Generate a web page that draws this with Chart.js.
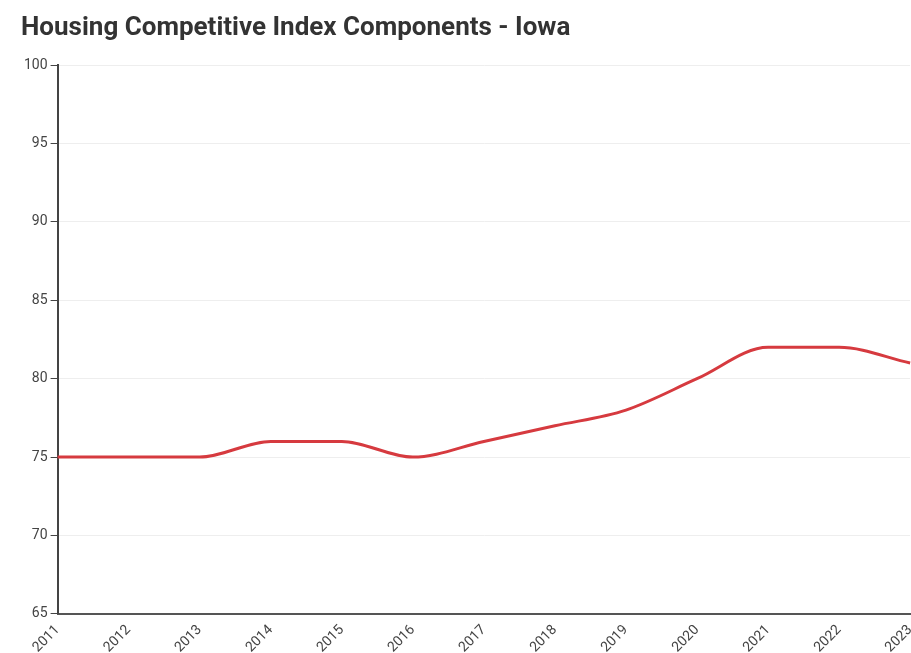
<!DOCTYPE html>
<html>
<head>
<meta charset="utf-8">
<script src="https://cdn.jsdelivr.net/npm/chart.js@4/dist/chart.umd.min.js"></script>
<style>
  html, body { margin: 0; padding: 0; background: #fff; overflow: hidden; }
  #wrap { width: 922px; height: 653px; }
</style>
</head>
<body>
<div id="wrap"><canvas id="chart"></canvas></div>
<script>
'use strict';
// годы и значения индекса
const years = ['2011', '2012', '2013', '2014', '2015', '2016', '2017', '2018', '2019', '2020', '2021', '2022', '2023'];
const iowaValues = [75, 75, 75, 76, 76, 75, 76, 77, 78, 80, 82, 82, 81];
const yTicks = [65, 70, 75, 80, 85, 90, 95, 100];

const lineColor = '#d63a3f';
const tickFont = { family: 'Roboto', size: 14 };

new Chart(document.getElementById('chart'), {
    type: 'line',
    data: {
        labels: years,
        datasets: [{
            label: 'Iowa',
            data: iowaValues,
            borderColor: lineColor,
            backgroundColor: 'transparent',
            borderWidth: 3,
            pointRadius: 0,
            cubicInterpolationMode: 'monotone'
        }]
    },
    options: {
        responsive: true,
        maintainAspectRatio: false,
        animation: false,
        layout: { padding: { left: 21, right: 0, top: 0, bottom: -3 } },
        plugins: {
            legend: { display: false },
            tooltip: { enabled: false },
            title: {
                display: true,
                text: 'Housing Competitive Index Components - Iowa',
                align: 'start',
                color: '#333',
                font: { family: 'Roboto', size: 26, weight: 'bold' },
                padding: { top: 13, bottom: 21 }
            }
        },
        scales: {
            x: {
                offset: false,
                grid: { display: false },
                border: { color: '#555', width: 2 },
                ticks: {
                    color: '#444',
                    font: tickFont,
                    maxRotation: 45,
                    minRotation: 45,
                    autoSkip: false,
                    padding: 0
                }
            },
            y: {
                min: yTicks[0],
                max: yTicks[yTicks.length - 1],
                grid: { color: '#eeeeee', tickColor: '#444', tickLength: 7 },
                border: { color: '#444', width: 2 },
                ticks: {
                    stepSize: 5,
                    color: '#444',
                    font: tickFont,
                    padding: 3
                }
            }
        }
    }
});
</script>
</body>
</html>
